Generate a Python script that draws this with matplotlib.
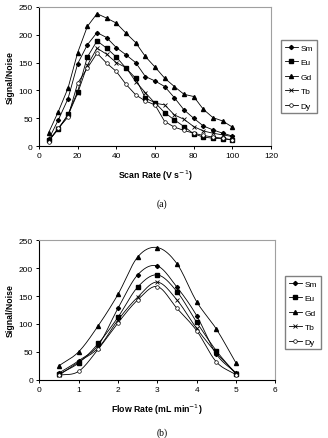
import numpy as np
import matplotlib.pyplot as plt

plt.rcParams['font.family'] = ['Liberation Sans', 'DejaVu Sans']

# (a) scan rate data
scan_rate = [5, 10, 15, 20, 25, 30, 35, 40, 45, 50,
             55, 60, 65, 70, 75, 80, 85, 90, 95, 100]
scan_sm = [12, 47, 85, 148, 182, 204, 195, 177, 164, 150,
           125, 117, 107, 87, 65, 50, 36, 29, 23, 18]
scan_eu = [10, 30, 57, 98, 160, 189, 176, 160, 140, 122,
           86, 78, 60, 47, 35, 22, 16, 14, 13, 11]
scan_gd = [24, 62, 104, 168, 215, 238, 230, 221, 203, 186,
           161, 142, 122, 107, 93, 89, 66, 51, 45, 34]
scan_tb = [10, 32, 55, 95, 145, 176, 165, 150, 141, 116,
           96, 77, 74, 56, 48, 35, 27, 23, 20, 17]
scan_dy = [8, 32, 52, 113, 140, 167, 149, 134, 111, 92,
           81, 74, 44, 34, 28, 23, 19, 16, 14, 11]

# (b) flow rate data
flow_rate = [0.5, 1, 1.5, 2, 2.5, 3, 3.5, 4, 4.5, 5]
flow_sm = [12, 34, 62, 128, 188, 204, 166, 115, 46, 12]
flow_eu = [10, 30, 65, 112, 166, 188, 158, 103, 52, 10]
flow_gd = [25, 50, 97, 153, 220, 237, 208, 140, 91, 30]
flow_tb = [8, 32, 57, 107, 148, 175, 143, 92, 48, 12]
flow_dy = [8, 15, 55, 102, 143, 167, 128, 88, 32, 9]

labels = ['Sm', 'Eu', 'Gd', 'Tb', 'Dy']
styles = [dict(marker='D', mfc='black', ms=2.1),
          dict(marker='s', mfc='black', ms=2.4),
          dict(marker='^', mfc='black', ms=2.9),
          dict(marker='x', mfc='black', ms=2.8, mew=0.6),
          dict(marker='o', mfc='white', ms=2.6, mew=0.5)]


def smooth(x, y, n=20):
    # Catmull-Rom curve through the points, like Excel's smoothed line
    x = np.asarray(x, float)
    y = np.asarray(y, float)
    px = np.concatenate([[2 * x[0] - x[1]], x, [2 * x[-1] - x[-2]]])
    py = np.concatenate([[2 * y[0] - y[1]], y, [2 * y[-1] - y[-2]]])
    t = np.linspace(0, 1, n)[:, None]
    xs, ys = [], []
    for i in range(1, len(px) - 2):
        for p, out in ((px, xs), (py, ys)):
            p0, p1, p2, p3 = p[i - 1], p[i], p[i + 1], p[i + 2]
            c = 0.5 * ((2 * p1) + (-p0 + p2) * t
                       + (2 * p0 - 5 * p1 + 4 * p2 - p3) * t ** 2
                       + (-p0 + 3 * p1 - 3 * p2 + p3) * t ** 3)
            out.append(c.ravel())
    return np.concatenate(xs), np.concatenate(ys)


def style_axes(ax):
    ax.spines['top'].set_color('#a0a0a0')
    ax.spines['right'].set_color('#a0a0a0')
    for s in ax.spines.values():
        s.set_linewidth(0.8)
    ax.tick_params(axis='both', direction='out', length=2.5, width=0.7,
                   labelsize=6, pad=2, top=False, right=False)
    ax.set_ylim(0, 250)
    ax.set_yticks(range(0, 251, 50))
    ax.set_ylabel('Signal/Noise', fontsize=6.3, fontweight='bold', labelpad=3)


def add_legend(handles, x, y):
    fig.legend(handles=handles, loc='upper left',
               bbox_to_anchor=(x / 328, 1 - y / 439), fontsize=6,
               frameon=True, fancybox=False, edgecolor='#606060',
               handlelength=1.6, handletextpad=0.3, borderpad=0.45,
               labelspacing=0.8, borderaxespad=0)


fig = plt.figure(figsize=(3.28, 4.39), dpi=100)

# ---- (a) ----
ax1 = fig.add_axes([39 / 328, 1 - 147 / 439, 232 / 328, 139 / 439])
series_a = [scan_sm, scan_eu, scan_gd, scan_tb, scan_dy]
handles = []
for ys, lab, st in zip(series_a, labels, styles):
    h, = ax1.plot(scan_rate, ys, color='black', lw=0.6, mec='black',
                  label=lab, **st)
    handles.append(h)
style_axes(ax1)
ax1.set_xlim(0, 120)
ax1.set_xticks(range(0, 121, 20))
ax1.set_xlabel('Scan Rate (V s$^{-1}$)', fontsize=6.3, fontweight='bold',
               labelpad=6)
add_legend(handles, 281, 41)

# ---- (b) ----
ax2 = fig.add_axes([39.3 / 328, 1 - 380.7 / 439, 236 / 328, 139.4 / 439])
series_b = [flow_sm, flow_eu, flow_gd, flow_tb, flow_dy]
handles = []
for ys, lab, st in zip(series_b, labels, styles):
    sx, sy = smooth(flow_rate, ys)
    ax2.plot(sx, sy, color='black', lw=0.6)
    ax2.plot(flow_rate, ys, ls='none', mec='black', **st)
    h, = ax2.plot([], [], color='black', lw=0.6, mec='black', label=lab, **st)
    handles.append(h)
style_axes(ax2)
ax2.set_xlim(0, 6)
ax2.set_xticks(range(0, 7))
ax2.set_xlabel('Flow Rate (mL min$^{-1}$)', fontsize=6.3, fontweight='bold',
               labelpad=6)
add_legend(handles, 285, 277)

fig.text(162 / 328, 1 - 204 / 439, '(a)', ha='center', va='center',
         fontsize=7, family='Liberation Serif')
fig.text(162 / 328, 1 - 433 / 439, '(b)', ha='center', va='center',
         fontsize=7, family='Liberation Serif')

fig.savefig('out.png', dpi=100)
